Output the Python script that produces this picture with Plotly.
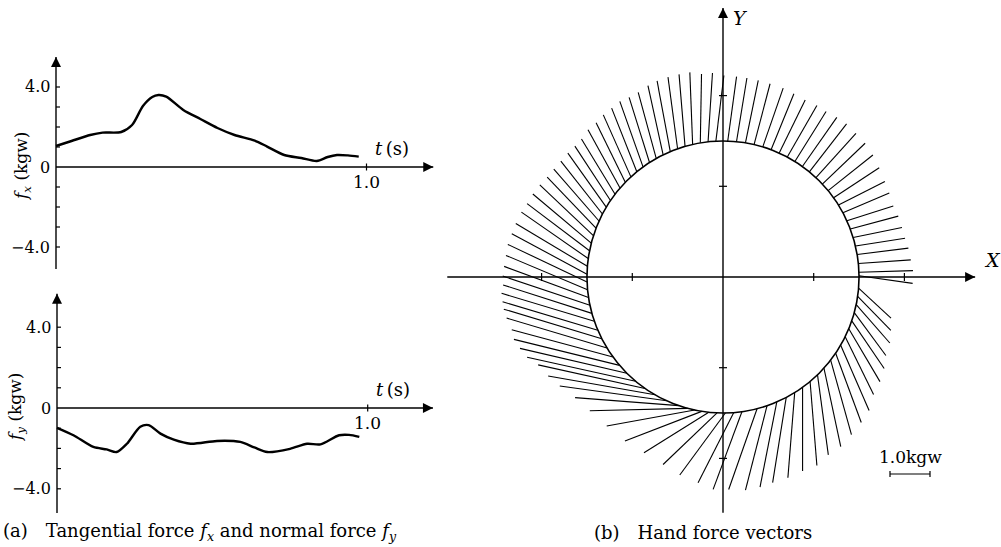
import numpy as np
import plotly.graph_objects as go

W, H = 1001, 547
SERIF = "DejaVu Serif"

# ---- (a) tangential / normal force time series ----
t_fx = [0.0, 0.05, 0.11, 0.15, 0.21, 0.245, 0.28, 0.31, 0.33, 0.355, 0.41, 0.465,
        0.52, 0.575, 0.64, 0.68, 0.735, 0.79, 0.84, 0.875, 0.905, 0.94, 0.975]
fx = [1.05, 1.3, 1.6, 1.72, 1.75, 2.1, 3.05, 3.5, 3.6, 3.52, 2.85, 2.4,
      1.95, 1.6, 1.32, 1.02, 0.6, 0.45, 0.3, 0.5, 0.6, 0.58, 0.52]

t_fy = [0.0, 0.053, 0.117, 0.16, 0.192, 0.225, 0.268, 0.295, 0.333, 0.376, 0.43,
        0.515, 0.59, 0.635, 0.677, 0.75, 0.805, 0.848, 0.908, 0.94, 0.973]
fy = [-0.98, -1.35, -1.93, -2.05, -2.18, -1.77, -0.93, -0.85, -1.27, -1.57, -1.77,
      -1.63, -1.68, -1.95, -2.18, -2.02, -1.77, -1.8, -1.35, -1.33, -1.43]

force_ticks = [-4, -3, -2, -1, 1, 2, 3, 4]
force_labels = {4: "4.0", 0: "0", -4: "\u22124.0"}

# ---- (b) hand force vectors: base angle on the circle (deg), force X / Y (kgw) ----
vec_angle = [
    88, 84.3, 80.5, 76.8, 73.0, 69.3, 65.6, 61.8, 58.1, 54.3, 50.6, 46.9,
    43.1, 39.4, 35.6, 31.9, 28.2, 24.4, 20.7, 16.9, 13.2, 9.5, 5.7, 2.0,
    0.5, -4.7, -8.2, -11.7, -15.2, -18.8, -22.4, -26.1, -30.1, -34.1, -37.7, -42.1,
    -46, -50.2, -54.2, -58.2, -62.3, -66.7, -71.1, -75.5,
    -82, -85.5, -89, -92.5, -96, -99, -102, -105,
    -109, -114.5, -120, -125, -130, -135, -139.5, -144, -148.5, -153, -157, -161, -164.5,
    -168, -171.3, -174.6, -177.9, -181.2, -184.5, -187.8, -191.1, -194.4, -197.7, -201,
    -204.3, -207.6, -210.9, -214.2, -217.5, -220.8, -224.1, -227.4, -230.7, -234,
    -237.3, -240.6, -243.9, -247.2, -250.5, -253.8, -257.1, -260.4, -263.7, -267,
]
vec_fx = [
    0.22, 0.26, 0.32, 0.40, 0.51, 0.57, 0.65, 0.74, 0.78, 0.86, 0.93, 1.00,
    1.07, 1.12, 1.14, 1.16, 1.16, 1.16, 1.20, 1.22, 1.24, 1.28, 1.31, 1.35,
    1.34, 0.81, 0.83, 0.84, 0.79, 0.81, 0.78, 0.71, 0.71, 0.64, 0.52, 0.42,
    0.27, 0.17, 0.0, -0.17, -0.34, -0.42, -0.54, -0.71,
    -0.72, -0.89, -1.14, -1.35, -1.62, -1.92, -2.2, -2.45,
    -2.59, -2.67, -2.67, -2.67, -2.71, -2.67, -2.64, -2.53, -2.51, -2.45, -2.38, -2.32, -2.22,
    -2.18, -2.11, -2.04, -1.98, -1.88, -1.79, -1.67, -1.56, -1.46, -1.34, -1.22,
    -1.13, -1.04, -0.96, -0.89, -0.84, -0.80, -0.73, -0.69, -0.63, -0.58,
    -0.51, -0.45, -0.38, -0.33, -0.24, -0.15, -0.07, 0.03, 0.11, 0.20,
]
vec_fy = [
    1.61, 1.59, 1.56, 1.52, 1.47, 1.40, 1.33, 1.29, 1.25, 1.23, 1.20, 1.11,
    1.02, 0.89, 0.75, 0.59, 0.49, 0.37, 0.32, 0.25, 0.19, 0.16, 0.09, 0.04,
    -0.19, -0.75, -0.85, -0.96, -1.07, -1.19, -1.32, -1.44, -1.63, -1.73, -1.86, -1.96,
    -2.0, -2.1, -2.09, -2.13, -2.13, -2.13, -2.11, -2.02,
    -1.94, -1.75, -1.55, -1.29, -1.01, -0.74, -0.4, -0.06,
    0.20, 0.37, 0.47, 0.59, 0.60, 0.62, 0.65, 0.68, 0.75, 0.74, 0.71, 0.70, 0.71,
    0.73, 0.78, 0.86, 0.94, 1.01, 1.07, 1.16, 1.18, 1.23, 1.27, 1.28,
    1.30, 1.32, 1.35, 1.36, 1.38, 1.46, 1.49, 1.55, 1.59, 1.64,
    1.63, 1.65, 1.73, 1.77, 1.79, 1.80, 1.80, 1.72, 1.72, 1.64,
]

CIRCLE_R = 1.5          # radius of the hand path
KGW = 0.441             # drawing length of 1.0 kgw
pos_ticks = [-2, -1, 1, 2]

# ---- page geometry (pixel anchors for the three panels) ----
def dom_x(a, b):
    return [a / W, b / W]

def dom_y(top, bottom):
    return [1 - bottom / H, 1 - top / H]

fig = go.Figure()

panels = {
    # name: (x0px, x1px, origin_x_px, px_per_unit_x, top_px, bottom_px, origin_y_px, px_per_unit_y)
    "a1": (0, 440, 56, 310.5, 40, 282, 167, 20.0),
    "a2": (0, 440, 57, 310.7, 284, 522, 408, 20.2),
    "b": (440, 1001, 723, 90.7, 0, 547, 277, 90.7),
}
axis_ids = {"a1": ("x", "y"), "a2": ("x2", "y2"), "b": ("x3", "y3")}
layout_axes = {}
for i, (name, p) in enumerate(panels.items()):
    x0, x1, ox, sx, top, bot, oy, sy = p
    xa = "xaxis" if i == 0 else f"xaxis{i + 1}"
    ya = "yaxis" if i == 0 else f"yaxis{i + 1}"
    hidden = dict(showgrid=False, zeroline=False, showline=False, showticklabels=False,
                  ticks="", fixedrange=True)
    layout_axes[xa] = dict(domain=dom_x(x0, x1), range=[(x0 - ox) / sx, (x1 - ox) / sx], **hidden)
    layout_axes[ya] = dict(domain=dom_y(top, bot), range=[(oy - bot) / sy, (oy - top) / sy], **hidden)
    if i > 0:
        layout_axes[xa]["anchor"] = axis_ids[name][1]
        layout_axes[ya]["anchor"] = axis_ids[name][0]

AX_W = 1.4
annotations = []
shapes = []
heads = {}   # arrow heads per subplot: list of (x, y, symbol)


def seg(xr, yr, x0, y0, x1, y1, w=AX_W):
    shapes.append(dict(type="line", xref=xr, yref=yr, x0=x0, y0=y0, x1=x1, y1=y1,
                       line=dict(color="black", width=w)))


def arrow(name, x_tail, y_tail, x_head, y_head, symbol):
    xr, yr = axis_ids[name]
    seg(xr, yr, x_tail, y_tail, x_head, y_head)
    heads.setdefault(name, []).append((x_head, y_head, symbol))


def label(text, px, py, size=15, xanchor="center", yanchor="middle", angle=0, font=SERIF):
    annotations.append(dict(
        x=px / W, y=1 - py / H, xref="paper", yref="paper", text=text, showarrow=False,
        xanchor=xanchor, yanchor=yanchor, textangle=angle,
        font=dict(family=font, size=size, color="black")))


# ---- (a) panels ----
series = [
    ("a1", t_fx, fx, 5.5, -5.1, 1.215, "<i>f<sub>x</sub></i> (kgw)", 22),
    ("a2", t_fy, fy, 5.65, -5.2, 1.21, "<i>f<sub>y</sub></i> (kgw)", 16),
]
for name, tt, vv, ytop, ybot, tend, ytitle, title_px in series:
    xr, yr = axis_ids[name]
    x0, x1, ox, sx, top, bot, oy, sy = panels[name]
    fig.add_trace(go.Scatter(x=tt, y=vv, mode="lines", xaxis=xr, yaxis=yr,
                             line=dict(color="black", width=2.4, shape="spline", smoothing=0.8),
                             hoverinfo="skip", showlegend=False))
    arrow(name, 0, ybot, 0, ytop, "arrow-up")
    arrow(name, 0, 0, tend, 0, "arrow-right")
    tick_dx = 4 / sx
    for v in force_ticks:
        seg(xr, yr, 0, v, tick_dx, v, 1.2)
    seg(xr, yr, 1.0, -3.5 / sy, 1.0, 3.5 / sy, 1.2)
    for v, txt in force_labels.items():
        label(txt, ox - 4, oy - v * sy, size=16, xanchor="right")
    label(ytitle, title_px, oy, size=17, angle=-90)
    label("<i>t</i>\u2009(s)", ox + 1.07 * sx + 4, oy - 19, size=18)
    label("1.0", ox + 1.0 * sx, oy + 15, size=17)

# ---- (b) hand force vectors ----
xr, yr = "x3", "y3"
arrow("b", -3.04, 0, 2.78, 0, "arrow-right")
arrow("b", 0, -2.6, 0, 2.966, "arrow-up")
tk = 4 / 90.7
for v in pos_ticks:
    seg(xr, yr, v, -tk, v, tk, 1.2)
    seg(xr, yr, -tk, v, tk, v, 1.2)

shapes.append(dict(type="circle", xref=xr, yref=yr, x0=-CIRCLE_R, y0=-CIRCLE_R,
                   x1=CIRCLE_R, y1=CIRCLE_R, line=dict(color="black", width=1.6)))

ang = np.radians(np.array(vec_angle))
bx = CIRCLE_R * np.cos(ang)
by = CIRCLE_R * np.sin(ang)
tx = bx + KGW * np.array(vec_fx)
ty = by + KGW * np.array(vec_fy)
lx, ly = [], []
for a, b, c, d in zip(bx, by, tx, ty):
    lx += [a, c, None]
    ly += [b, d, None]
fig.add_trace(go.Scatter(x=lx, y=ly, mode="lines", xaxis=xr, yaxis=yr,
                         line=dict(color="black", width=1.1),
                         hoverinfo="skip", showlegend=False))

# arrow heads of all axes
for name, pts in heads.items():
    xr_, yr_ = axis_ids[name]
    fig.add_trace(go.Scatter(
        x=[p[0] for p in pts], y=[p[1] for p in pts], mode="markers",
        xaxis=xr_, yaxis=yr_, hoverinfo="skip", showlegend=False,
        marker=dict(symbol=[p[2] for p in pts], size=10, color="black",
                    line=dict(width=0))))

# scale bar: 1.0 kgw
sb_x0, sb_y = (890 - 723) / 90.7, (277 - 474) / 90.7
seg(xr, yr, sb_x0, sb_y, sb_x0 + 1.0 * KGW, sb_y, 1.2)
for xx in (sb_x0, sb_x0 + 1.0 * KGW):
    seg(xr, yr, xx, sb_y - 3 / 90.7, xx, sb_y + 3 / 90.7, 1.2)
label("1.0kgw", 910, 457, size=17)

label("<i>X</i>", 992, 260, size=19)
label("<i>Y</i>", 740, 18, size=19)

# ---- captions ----
label("(a)\u2003Tangential force <i>f<sub>x</sub></i> and normal force <i>f<sub>y</sub></i>",
      1, 532, size=18, xanchor="left")
label("(b)\u2003Hand force vectors", 592, 532, size=18, xanchor="left")

fig.update_layout(
    width=W, height=H, margin=dict(l=0, r=0, t=0, b=0),
    paper_bgcolor="white", plot_bgcolor="white",
    showlegend=False, annotations=annotations, shapes=shapes, **layout_axes,
)
fig.write_html("out.html")
